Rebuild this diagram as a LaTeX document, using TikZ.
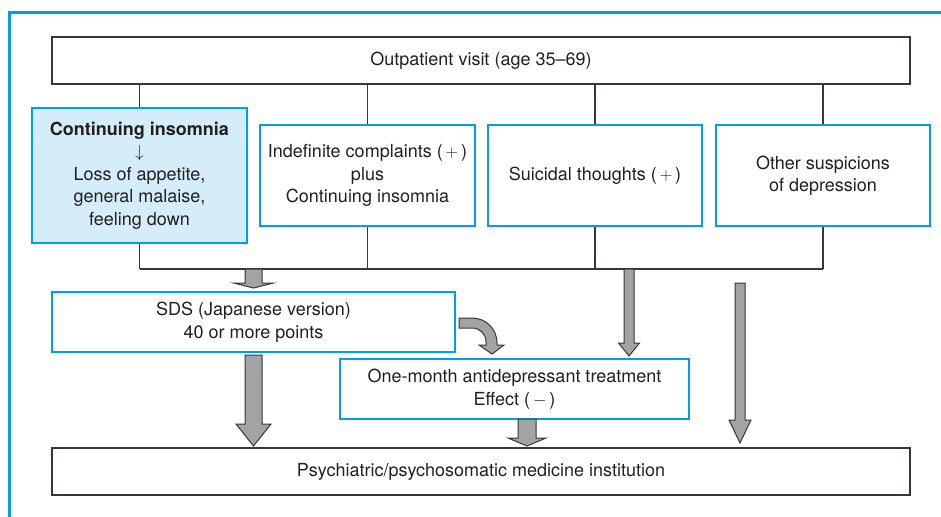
\documentclass[tikz,border=0pt]{standalone}
\usepackage{fontspec}
\setmainfont{TeX Gyre Heros}
\begin{document}
\definecolor{frameblue}{HTML}{00A0E9}
\definecolor{paleblue}{HTML}{D5ECF9}
\definecolor{inkgray}{HTML}{231F20}
\definecolor{linegray}{HTML}{3A3536}
\definecolor{arrowfill}{HTML}{A3A3A3}
% block arrow pointing down: x centre, shaft half width, head half width, top, head top, tip
\newcommand{\fatdown}[6]{%
  \draw[blockarrow] (#1-#2,#4) -- (#1+#2,#4) -- (#1+#2,#5) -- (#1+#3,#5)
    -- (#1,#6) -- (#1-#3,#5) -- (#1-#2,#5) -- cycle;}
\begin{tikzpicture}[x=1pt,y=-1pt,
  every node/.style={text=inkgray,font=\fontsize{18}{22.5}\selectfont,align=center,inner sep=0pt},
  plainbox/.style={draw=linegray,line width=1.3pt,rectangle},
  bluebox/.style={draw=frameblue,line width=2pt,rectangle,fill=white},
  link/.style={draw=linegray,line width=1.1pt},
  blockarrow/.style={draw=linegray,line width=1pt,fill=arrowfill,line join=miter}]
\useasboundingbox (0,0) rectangle (941,516);
% outer frame
\draw[frameblue,line width=3pt] (9,520) -- (9,13) -- (945,13);

% nodes
\node[plainbox,minimum width=858pt,minimum height=47pt] (top) at (481,60.5) {Outpatient visit (age 35–69)};
\node[bluebox,fill=paleblue,minimum width=215pt,minimum height=135pt] (b1) at (139.5,175.5)
  {\textbf{Continuing insomnia}\\ $\downarrow$\\ Loss of appetite,\\ general malaise,\\ feeling down};
\node[bluebox,minimum width=215pt,minimum height=101pt] (b2) at (367.5,175.5)
  {Indefinite complaints ($\,+\,$)\\ plus\\ Continuing insomnia};
\node[bluebox,minimum width=214pt,minimum height=101pt] (b3) at (595,175.5)
  {Suicidal thoughts ($\,+\,$)};
\node[bluebox,minimum width=214pt,minimum height=101pt] (b4) at (823,175.5)
  {Other suspicions\\ of depression};
\node[bluebox,minimum width=403pt,minimum height=60pt] (sds) at (253.5,322)
  {SDS (Japanese version)\\ 40 or more points};
\node[bluebox,minimum width=349pt,minimum height=60pt] (one) at (514.5,389)
  {One-month antidepressant treatment\\ Effect ($\,-\,$)};
\node[plainbox,minimum width=858pt,minimum height=47pt] (bot) at (481,471.5)
  {Psychiatric/psychosomatic medicine institution};

% tree connectors
\coordinate (bus) at (0,269);
\foreach \b in {b1,b2,b3,b4}{
  \draw[link] (top.south -| \b.north) -- (\b.north);
  \draw[link] (\b.south) -- (\b.south |- bus);
}
\draw[link] (b1.south |- bus) -- (b4.south |- bus);

% block arrows
\fatdown{253.5}{8.5}{20}{269}{283}{288}
\fatdown{253.5}{8.5}{17.5}{355}{424}{446}
\fatdown{629}{5}{10.5}{269}{343}{356}
\fatdown{740}{5}{11}{283}{420}{443}
\fatdown{527}{9}{19}{419}{438}{446}
% bent arrow from the SDS box to the treatment box
\draw[blockarrow] (459,318) -- (472,318) .. controls (486,318) and (497,329) .. (497,343)
  -- (497,345) -- (504,345) -- (492,354) -- (479,345) -- (486,345) -- (486,342)
  .. controls (486,334) and (480,328) .. (472,328) -- (459,328) -- cycle;
\end{tikzpicture}
\end{document}
